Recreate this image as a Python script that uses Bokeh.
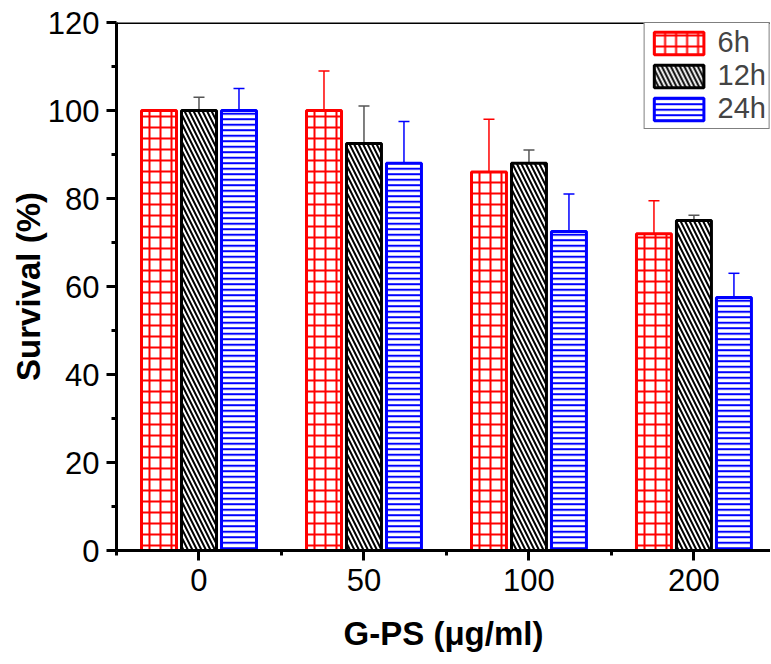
from bokeh.plotting import figure
from bokeh.models import (ColumnDataSource, Range1d, FixedTicker, Whisker, TeeHead,
                          Span, Legend, LegendItem)
from bokeh.transform import dodge
from bokeh.embed import file_html
from bokeh.resources import INLINE

categories = ["0", "50", "100", "200"]
surv_6h = [100, 100, 86, 72]
err_6h = [0, 9, 12, 7.5]
surv_12h = [100, 92.5, 88, 75]
err_12h = [3, 8.5, 3, 1.2]
surv_24h = [100, 88, 72.5, 57.5]
err_24h = [5, 9.5, 8.5, 5.5]
series_names = ["6h", "12h", "24h"]

FONT = "Liberation Sans"

p = figure(width=770, height=656, output_backend="svg", toolbar_location=None,
           x_range=Range1d(-0.5, 3.464), y_range=Range1d(0, 120),
           min_border_left=116, min_border_right=0, min_border_top=22,
           min_border_bottom=106)
p.outline_line_color = None
p.xgrid.visible = False
p.ygrid.visible = False
p.background_fill_color = "white"
p.border_fill_color = "white"

xs = list(range(len(categories)))
specs = [
    (surv_6h, err_6h, -0.2424, "red", "+", 11, 2, "red"),
    (surv_12h, err_12h, 0.0, "black", "\\", 9, 2, "#555555"),
    (surv_24h, err_24h, 0.2424, "blue", "-", 5.5, 2, "blue"),
]
renderers = []
for vals, errs, off, col, hatch, hscale, hweight, ecol in specs:
    src = ColumnDataSource(dict(x=xs, top=vals,
                                upper=[v + e for v, e in zip(vals, errs)],
                                lower=[v - e for v, e in zip(vals, errs)]))
    r = p.vbar(x=dodge("x", off), top="top", width=0.212, source=src,
               fill_color="white", line_color=col, line_width=3,
               hatch_pattern=hatch, hatch_color=col, hatch_scale=hscale,
               hatch_weight=hweight)
    renderers.append(r)
    w = Whisker(base=dodge("x", off), upper="upper", lower="lower", source=src,
                line_color=ecol, line_width=1.5,
                upper_head=TeeHead(size=11, line_color=ecol, line_width=1.5),
                lower_head=TeeHead(size=11, line_color=ecol, line_width=1.5))
    p.add_layout(w)

p.add_layout(Span(location=120, dimension="width", line_color="black", line_width=3))

# axes
p.xaxis.ticker = FixedTicker(ticks=xs, minor_ticks=[-0.5, 0.5, 1.5, 2.5])
p.xaxis.major_label_overrides = {i: c for i, c in enumerate(categories)}
p.yaxis.ticker = FixedTicker(ticks=list(range(0, 121, 20)),
                             minor_ticks=list(range(10, 120, 20)))
for ax in (p.xaxis[0], p.yaxis[0]):
    ax.axis_line_width = 3
    ax.major_tick_line_width = 3
    ax.minor_tick_line_width = 3
    ax.major_tick_in = 0
    ax.major_tick_out = 10
    ax.minor_tick_in = 0
    ax.minor_tick_out = 5
    ax.major_label_text_font = FONT
    ax.major_label_text_font_size = "31px"
    ax.major_label_text_color = "black"
    ax.axis_label_text_font = FONT
    ax.axis_label_text_font_size = "33px"
    ax.axis_label_text_font_style = "bold"
    ax.axis_label_text_color = "black"

p.xaxis.axis_label = "G-PS (μg/ml)"
p.yaxis.axis_label = "Survival (%)"
p.xaxis.major_label_standoff = 8
p.yaxis.major_label_standoff = 7
p.xaxis.axis_label_standoff = 21
p.yaxis.axis_label_standoff = -2

legend = Legend(items=[LegendItem(label=n, renderers=[r]) for n, r in zip(series_names, renderers)],
                location="top_right", margin=0, padding=3, spacing=0,
                glyph_width=62, glyph_height=28, label_standoff=8,
                label_text_font=FONT, label_text_font_size="29px",
                border_line_color="black", border_line_width=1,
                background_fill_alpha=1)
p.add_layout(legend)

open("out.html", "w").write(file_html(p, INLINE))
